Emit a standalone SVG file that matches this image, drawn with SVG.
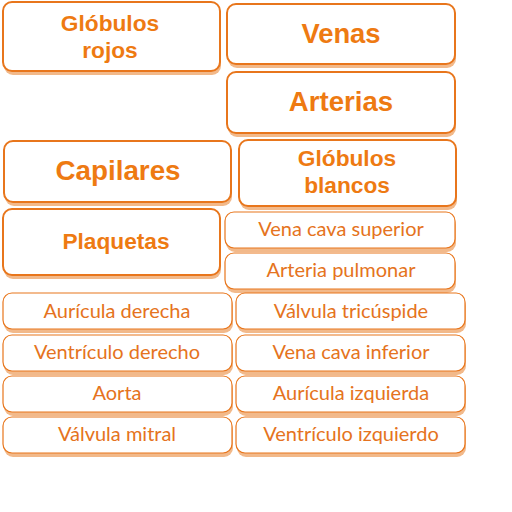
<svg xmlns="http://www.w3.org/2000/svg" width="512" height="512" viewBox="0 0 512 512">
<style>
.sh{fill:#F2B98A;}
.bx{fill:#fff;stroke:#E8761C;stroke-width:2;}
.bs{fill:#fff;stroke:#E8761C;stroke-width:1.2;}
.tb{font-family:"Liberation Sans",Arial,sans-serif;font-weight:bold;fill:#EE7A12;text-anchor:middle;}
.tl{font-family:Lato,"Liberation Sans",sans-serif;font-size:20px;fill:#E57320;text-anchor:middle;}
</style>
<rect width="512" height="512" fill="#fff"/>
<g id="n1"><rect class="sh" x="4" y="6" width="217" height="69" rx="9"/><rect class="bx" x="3" y="2" width="217" height="69" rx="9"/><text class="tb" font-size="22.7" x="110" y="31">Glóbulos</text><text class="tb" font-size="22.7" x="110" y="58">rojos</text></g>
<g id="n2"><rect class="sh" x="228" y="8" width="228" height="60" rx="9"/><rect class="bx" x="227" y="4" width="228" height="60" rx="9"/><text class="tb" font-size="27.4" x="341" y="43">Venas</text></g>
<g id="n3"><rect class="sh" x="228" y="76" width="228" height="61" rx="9"/><rect class="bx" x="227" y="72" width="228" height="61" rx="9"/><text class="tb" font-size="27.6" x="341" y="111">Arterias</text></g>
<g id="n4"><rect class="sh" x="5" y="145" width="227" height="61" rx="9"/><rect class="bx" x="4" y="141" width="227" height="61" rx="9"/><text class="tb" font-size="27.8" x="118" y="180">Capilares</text></g>
<g id="n5"><rect class="sh" x="240" y="144" width="217" height="66" rx="9"/><rect class="bx" x="239" y="140" width="217" height="66" rx="9"/><text class="tb" font-size="22.7" x="347" y="166">Glóbulos</text><text class="tb" font-size="22.7" x="347" y="193">blancos</text></g>
<g id="n6"><rect class="sh" x="4" y="213" width="217" height="66" rx="9"/><rect class="bx" x="3" y="209" width="217" height="66" rx="9"/><text class="tb" font-size="22.7" x="116" y="249">Plaquetas</text></g>
<g id="n7"><rect class="sh" x="226" y="216" width="230" height="36" rx="9"/><rect class="bs" x="225" y="212" width="230" height="36" rx="9"/><text class="tl" x="341" y="236">Vena cava superior</text></g>
<g id="n8"><rect class="sh" x="226" y="257" width="230" height="36" rx="9"/><rect class="bs" x="225" y="253" width="230" height="36" rx="9"/><text class="tl" x="341" y="277">Arteria pulmonar</text></g>
<g id="n9"><rect class="sh" x="4" y="297" width="229" height="36" rx="9"/><rect class="bs" x="3" y="293" width="229" height="36" rx="9"/><text class="tl" x="117" y="318">Aurícula derecha</text></g>
<g id="n10"><rect class="sh" x="4" y="339" width="229" height="36" rx="9"/><rect class="bs" x="3" y="335" width="229" height="36" rx="9"/><text class="tl" x="117" y="359">Ventrículo derecho</text></g>
<g id="n11"><rect class="sh" x="4" y="380" width="229" height="36" rx="9"/><rect class="bs" x="3" y="376" width="229" height="36" rx="9"/><text class="tl" x="117" y="400">Aorta</text></g>
<g id="n12"><rect class="sh" x="4" y="421" width="229" height="36" rx="9"/><rect class="bs" x="3" y="417" width="229" height="36" rx="9"/><text class="tl" x="117" y="441">Válvula mitral</text></g>
<g id="n13"><rect class="sh" x="237" y="297" width="229" height="36" rx="9"/><rect class="bs" x="236" y="293" width="229" height="36" rx="9"/><text class="tl" x="351" y="318">Válvula tricúspide</text></g>
<g id="n14"><rect class="sh" x="237" y="339" width="229" height="36" rx="9"/><rect class="bs" x="236" y="335" width="229" height="36" rx="9"/><text class="tl" x="351" y="359">Vena cava inferior</text></g>
<g id="n15"><rect class="sh" x="237" y="380" width="229" height="36" rx="9"/><rect class="bs" x="236" y="376" width="229" height="36" rx="9"/><text class="tl" x="351" y="400">Aurícula izquierda</text></g>
<g id="n16"><rect class="sh" x="237" y="421" width="229" height="36" rx="9"/><rect class="bs" x="236" y="417" width="229" height="36" rx="9"/><text class="tl" x="351" y="441">Ventrículo izquierdo</text></g>
<g id="connectors"/>
</svg>
